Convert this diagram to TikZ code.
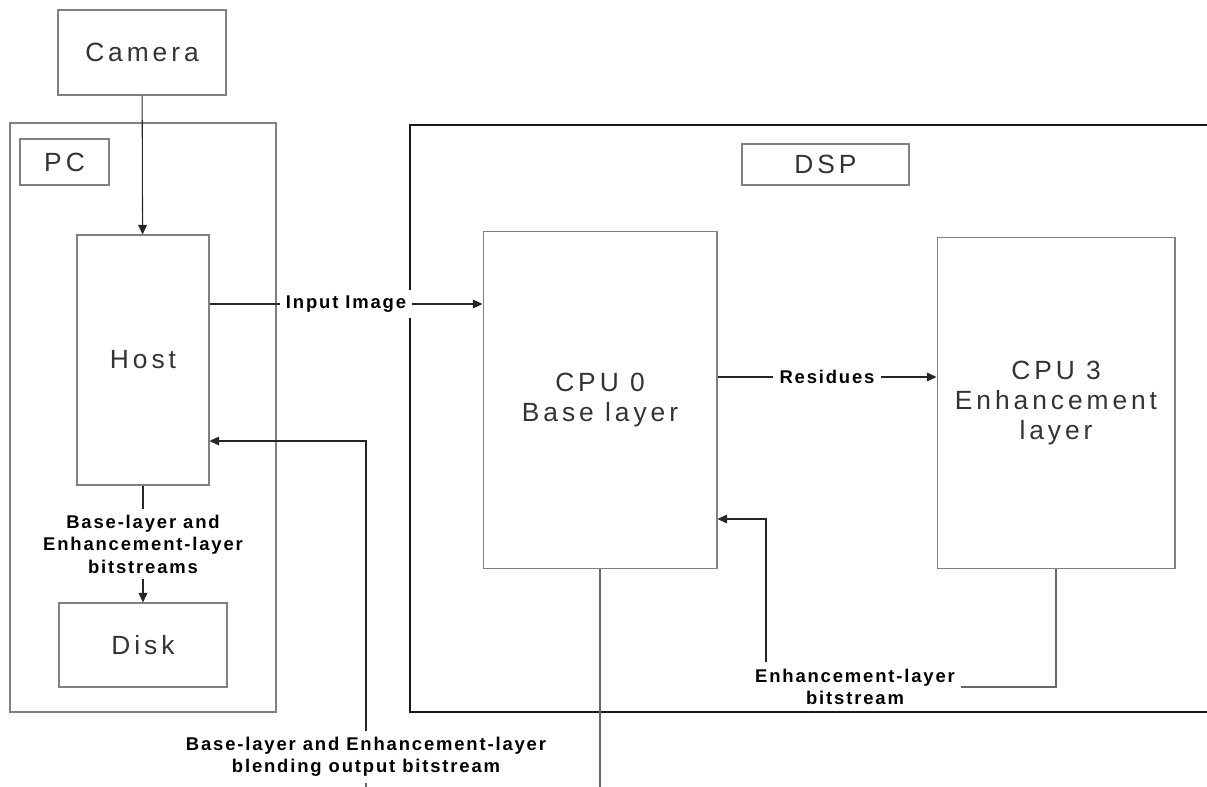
\documentclass[tikz,border=0pt]{standalone}
\usepackage{fontspec}
\setmainfont{Liberation Sans}
\newfontfamily\boxfont{Liberation Sans}[LetterSpace=15]
\newfontfamily\lblfont{Liberation Sans Bold}[LetterSpace=10]
\usepackage{tikz}
\usetikzlibrary{arrows.meta, positioning}

\begin{document}
\begin{tikzpicture}[
  x=0.02cm, y=-0.02cm,
  unit/.style={rectangle, draw=black!50, line width=0.6pt, text=black!80, align=center,
               font=\boxfont\fontsize{15}{17}\selectfont},
  tag/.style={unit, inner sep=0pt},
  lbl/.style={fill=white, inner sep=3.5pt, align=center, text=black,
              font=\lblfont\fontsize{10.5}{12.8}\selectfont},
  arr/.style={-{Triangle[length=5.5pt,width=5pt]}, draw=black!85, line width=0.6pt},
  wire/.style={draw=black!60, line width=0.6pt}
]
  \useasboundingbox (0,0) rectangle (1207,787);

  % outer frames
  \draw[draw=black!50, line width=0.7pt] (10,123) rectangle (276,712);
  \draw[draw=black!90, line width=1pt] (1215,125) -- (410,125) -- (410,712) -- (1215,712);

  % boxes
  \node[unit, minimum width=3.36cm, minimum height=1.70cm] (camera) at (142,52.5) {Camera};
  \node[tag, minimum width=1.78cm, minimum height=0.92cm] (pc) at (64.5,162) {PC};
  \node[unit, minimum width=2.64cm, minimum height=5.00cm] (host) at (143,360) {Host};
  \node[unit, minimum width=3.36cm, minimum height=1.68cm] (disk) at (143,645) {Disk};
  \node[tag, minimum width=3.34cm, minimum height=0.82cm] (dsp) at (825.5,164.5) {DSP};
  \node[unit, minimum width=4.68cm, minimum height=6.76cm] (cpu0) at (600,400) {CPU 0\\Base layer};
  \node[unit, minimum width=4.76cm, minimum height=6.64cm] (cpu3) at (1056,403) {CPU 3\\Enhancement\\layer};

  % free ends below the picture
  \coordinate (bot0) at (cpu0.south |- 0,787);
  \coordinate (bot1) at (366,787);
  \coordinate (bend) at (366,441);
  \coordinate (ebend) at (766,519);

  % connectors
  \draw[arr] (camera) -- (host);
  \draw[arr] (host.east |- 0,304) -- node[lbl] {Input Image} (cpu0.west |- 0,304);
  \draw[arr] (cpu0.east |- 0,377) -- node[lbl] {Residues} (cpu3.west |- 0,377);
  \draw[arr] (host) -- node[lbl] {Base-layer and\\Enhancement-layer\\bitstreams} (disk);

  \node[lbl] (enhlbl) at (855,687) {Enhancement-layer\\bitstream};
  \draw[wire] (cpu3.south) |- (enhlbl.east);
  \draw[arr] (ebend |- enhlbl.north) -- (ebend) -- (cpu0.east |- ebend);

  \draw[wire] (cpu0.south) -- (bot0);
  \node[lbl] (blendlbl) at (366,757) {Base-layer and Enhancement-layer\\blending output bitstream};
  \draw[wire] (bot1) -- (blendlbl.south);
  \draw[arr] (blendlbl) |- (host.east |- bend);
\end{tikzpicture}
\end{document}
